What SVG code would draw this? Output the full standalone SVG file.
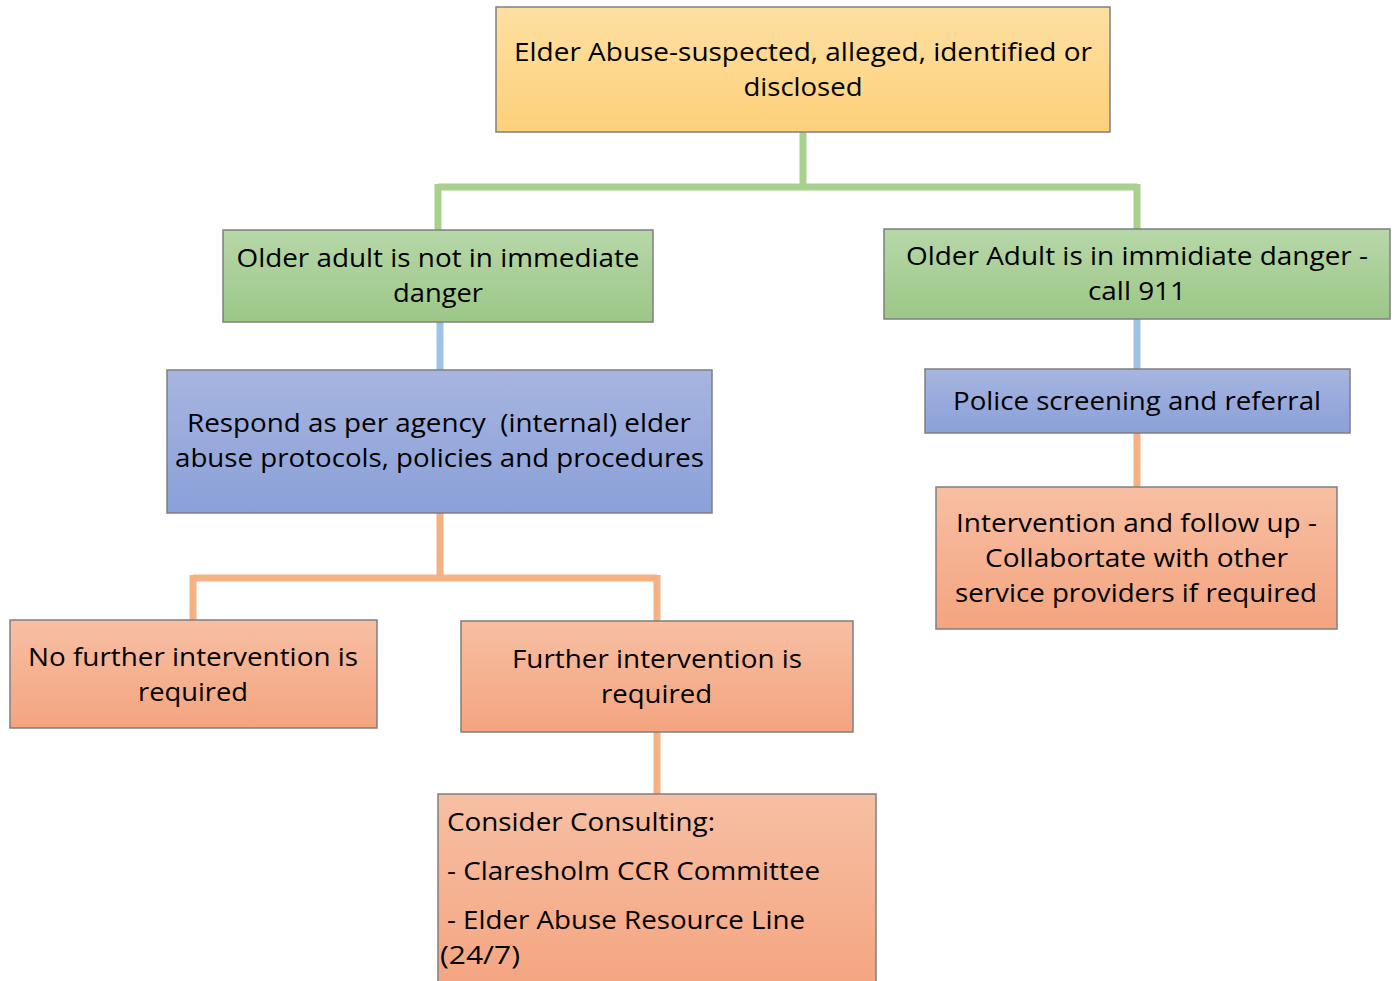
<svg xmlns="http://www.w3.org/2000/svg" width="1394" height="981" viewBox="0 0 1394 981">
<defs>
<linearGradient id="gY" x1="0" y1="0" x2="0" y2="1"><stop offset="0" stop-color="#FEE0A2"/><stop offset="1" stop-color="#FDD07A"/></linearGradient>
<linearGradient id="gG" x1="0" y1="0" x2="0" y2="1"><stop offset="0" stop-color="#B7D7A8"/><stop offset="1" stop-color="#9CC787"/></linearGradient>
<linearGradient id="gB" x1="0" y1="0" x2="0" y2="1"><stop offset="0" stop-color="#A7B5E0"/><stop offset="1" stop-color="#8AA0D8"/></linearGradient>
<linearGradient id="gO" x1="0" y1="0" x2="0" y2="1"><stop offset="0" stop-color="#F7BFA3"/><stop offset="1" stop-color="#F4A47F"/></linearGradient>
</defs>
<style>
.box{stroke:#7F7F7F;stroke-width:1.5}
text{font-family:"Open Sans","Liberation Sans",sans-serif;font-size:26px;fill:#000}
.c{text-anchor:middle}
.g{stroke:#A9D18E;stroke-width:7;fill:none}
.b{stroke:#9DC3E6;stroke-width:7;fill:none}
.o{stroke:#F4B183;stroke-width:7;fill:none}
</style>
<rect width="1394" height="981" fill="#fff"/>
<g id="connectors">
<path class="g" d="M803 132V187M438 187H1137M438 184V230M1137 184V229"/>
<path class="b" d="M440 322V370M1137 319V369"/>
<path class="o" d="M440 513V578M193 578H657M193 575V620M657 575V621M1137 433V487M657 732V794"/>
</g>
<g id="n1">
<rect class="box" x="496" y="7" width="614" height="125" fill="url(#gY)"/>
<text class="c" x="803" y="61" textLength="578" lengthAdjust="spacingAndGlyphs">Elder Abuse-suspected, alleged, identified or</text>
<text class="c" x="803" y="96" textLength="119" lengthAdjust="spacingAndGlyphs">disclosed</text>
</g>
<g id="n2">
<rect class="box" x="223" y="230" width="430" height="92" fill="url(#gG)"/>
<text class="c" x="438" y="267" textLength="403" lengthAdjust="spacingAndGlyphs">Older adult is not in immediate</text>
<text class="c" x="438" y="302" textLength="90" lengthAdjust="spacingAndGlyphs">danger</text>
</g>
<g id="n3">
<rect class="box" x="884" y="229" width="506" height="90" fill="url(#gG)"/>
<text class="c" x="1137" y="265" textLength="462" lengthAdjust="spacingAndGlyphs">Older Adult is in immidiate danger -</text>
<text class="c" x="1137" y="300" textLength="98" lengthAdjust="spacingAndGlyphs">call 911</text>
</g>
<g id="n4">
<rect class="box" x="167" y="370" width="545" height="143" fill="url(#gB)"/>
<text class="c" x="439" y="432" textLength="504" lengthAdjust="spacingAndGlyphs" xml:space="preserve">Respond as per agency  (internal) elder</text>
<text class="c" x="439.5" y="467" textLength="529" lengthAdjust="spacingAndGlyphs">abuse protocols, policies and procedures</text>
</g>
<g id="n5">
<rect class="box" x="925" y="369" width="425" height="64" fill="url(#gB)"/>
<text class="c" x="1137" y="410" textLength="368" lengthAdjust="spacingAndGlyphs">Police screening and referral</text>
</g>
<g id="n6">
<rect class="box" x="936" y="487" width="401" height="142" fill="url(#gO)"/>
<text class="c" x="1136.5" y="532" textLength="361" lengthAdjust="spacingAndGlyphs">Intervention and follow up -</text>
<text class="c" x="1136.5" y="567" textLength="303" lengthAdjust="spacingAndGlyphs">Collabortate with other</text>
<text class="c" x="1136" y="602" textLength="362" lengthAdjust="spacingAndGlyphs">service providers if required</text>
</g>
<g id="n7">
<rect class="box" x="10" y="620" width="367" height="108" fill="url(#gO)"/>
<text class="c" x="193" y="666" textLength="330" lengthAdjust="spacingAndGlyphs">No further intervention is</text>
<text class="c" x="193" y="701" textLength="110" lengthAdjust="spacingAndGlyphs">required</text>
</g>
<g id="n8">
<rect class="box" x="461" y="621" width="392" height="111" fill="url(#gO)"/>
<text class="c" x="657" y="668" textLength="290" lengthAdjust="spacingAndGlyphs">Further intervention is</text>
<text class="c" x="656.5" y="703" textLength="111" lengthAdjust="spacingAndGlyphs">required</text>
</g>
<g id="n9">
<rect class="box" x="438" y="794" width="438" height="200" fill="url(#gO)"/>
<text x="447" y="831" textLength="268" lengthAdjust="spacingAndGlyphs">Consider Consulting:</text>
<text x="447" y="880" textLength="373" lengthAdjust="spacingAndGlyphs">- Claresholm CCR Committee</text>
<text x="447" y="929" textLength="358" lengthAdjust="spacingAndGlyphs">- Elder Abuse Resource Line</text>
<text x="440" y="964" textLength="80" lengthAdjust="spacingAndGlyphs">(24/7)</text>
</g>
</svg>
